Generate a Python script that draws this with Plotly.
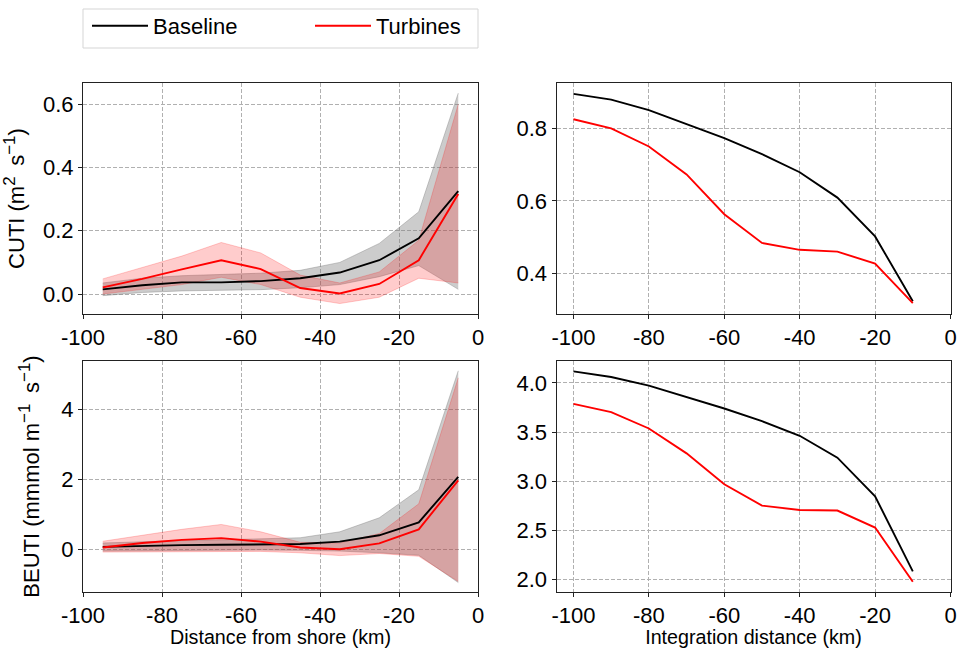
import plotly.graph_objects as go

# ---------------- data ----------------
dist = [-95, -85, -75, -65, -55, -45, -35, -25, -15, -5]

cuti_base = [0.015, 0.028, 0.037, 0.037, 0.041, 0.050, 0.068, 0.107, 0.176, 0.325]
cuti_base_hi = [0.035, 0.050, 0.058, 0.063, 0.066, 0.075, 0.100, 0.160, 0.260, 0.635]
cuti_base_lo = [-0.005, 0.005, 0.010, 0.012, 0.014, 0.020, 0.030, 0.055, 0.090, 0.015]
cuti_turb = [0.021, 0.048, 0.078, 0.107, 0.079, 0.019, 0.002, 0.032, 0.107, 0.316]
cuti_turb_hi = [0.048, 0.085, 0.120, 0.163, 0.130, 0.060, 0.035, 0.070, 0.170, 0.600]
cuti_turb_lo = [0.000, 0.015, 0.030, 0.053, 0.030, -0.010, -0.030, -0.010, 0.050, 0.035]

beuti_base = [0.07, 0.10, 0.12, 0.13, 0.13, 0.15, 0.22, 0.40, 0.77, 2.07]
beuti_base_hi = [0.18, 0.22, 0.25, 0.27, 0.29, 0.33, 0.50, 0.90, 1.70, 5.10]
beuti_base_lo = [-0.05, -0.04, -0.03, -0.02, -0.02, -0.03, -0.05, -0.10, -0.17, -0.95]
beuti_turb = [0.05, 0.18, 0.27, 0.32, 0.22, 0.05, 0.00, 0.17, 0.57, 1.97]
beuti_turb_hi = [0.23, 0.40, 0.57, 0.71, 0.50, 0.20, 0.18, 0.45, 1.30, 4.90]
beuti_turb_lo = [-0.08, -0.07, -0.06, -0.05, -0.06, -0.10, -0.18, -0.12, -0.20, -0.92]

integ = [-100, -90, -80, -70, -60, -50, -40, -30, -20, -10]
cuti_int_base = [0.895, 0.879, 0.850, 0.812, 0.773, 0.729, 0.679, 0.609, 0.502, 0.323]
cuti_int_turb = [0.825, 0.800, 0.750, 0.673, 0.563, 0.484, 0.465, 0.460, 0.427, 0.318]
beuti_int_base = [4.118, 4.060, 3.973, 3.855, 3.740, 3.611, 3.463, 3.240, 2.848, 2.084]
beuti_int_turb = [3.787, 3.703, 3.537, 3.284, 2.970, 2.753, 2.709, 2.703, 2.530, 1.980]

x_tickvals = [-100, -80, -60, -40, -20, 0]
x_ticktext = ["-100", "-80", "-60", "-40", "-20", "0"]

series_names = ["Baseline", "Turbines"]
# ---------------------------------------

FONT = "Liberation Sans, Arial, sans-serif"
BLACK = "#000000"
RED = "#ff0000"
GRAY_FILL = "rgba(128,128,128,0.4)"
RED_FILL = "rgba(255,0,0,0.2)"

fig = go.Figure()


def band(x, lo, hi, fill, xa, ya):
    fig.add_trace(go.Scatter(x=x, y=lo, mode="lines", line=dict(color=fill, width=1),
                             showlegend=False, hoverinfo="skip", xaxis=xa, yaxis=ya))
    fig.add_trace(go.Scatter(x=x, y=hi, mode="lines", line=dict(color=fill, width=1),
                             fill="tonexty", fillcolor=fill, showlegend=False,
                             hoverinfo="skip", xaxis=xa, yaxis=ya))


def line(x, y, color, name, xa, ya, show):
    fig.add_trace(go.Scatter(x=x, y=y, mode="lines", line=dict(color=color, width=1.9),
                             name=name, showlegend=show, xaxis=xa, yaxis=ya))


# top-left
band(dist, cuti_base_lo, cuti_base_hi, GRAY_FILL, "x", "y")
band(dist, cuti_turb_lo, cuti_turb_hi, RED_FILL, "x", "y")
line(dist, cuti_base, BLACK, series_names[0], "x", "y", True)
line(dist, cuti_turb, RED, series_names[1], "x", "y", True)

# bottom-left
band(dist, beuti_base_lo, beuti_base_hi, GRAY_FILL, "x3", "y3")
band(dist, beuti_turb_lo, beuti_turb_hi, RED_FILL, "x3", "y3")
line(dist, beuti_base, BLACK, series_names[0], "x3", "y3", False)
line(dist, beuti_turb, RED, series_names[1], "x3", "y3", False)

# top-right
line(integ, cuti_int_base, BLACK, series_names[0], "x2", "y2", False)
line(integ, cuti_int_turb, RED, series_names[1], "x2", "y2", False)

# bottom-right
line(integ, beuti_int_base, BLACK, series_names[0], "x4", "y4", False)
line(integ, beuti_int_turb, RED, series_names[1], "x4", "y4", False)

W, H = 957, 648
xl = [83 / W, 478 / W]
xr = [556.5 / W, 950.5 / W]
yt = [1 - 314 / H, 1 - 83 / H]
yb = [1 - 592 / H, 1 - 361 / H]

common_axis = dict(
    showline=True, linecolor="#222222", linewidth=1, mirror=True,
    ticks="outside", ticklen=4, tickcolor="#222222", tickwidth=1,
    showgrid=True, gridcolor="#b0b0b0", gridwidth=0.8, griddash="4px,2px",
    zeroline=False, tickfont=dict(size=22, color="#000000", family=FONT),
    automargin=False, ticklabeloverflow="allow",
)

xtitle_font = dict(size=19.7, color="#000000", family=FONT)
ytitle_font = dict(size=22, color="#000000", family=FONT)
SUP = "<sup><span style='font-size:17px'>{}</span></sup>"

cuti_title = "CUTI (m" + SUP.format("2") + "\u2009 s" + SUP.format("\u22121") + ")"
beuti_title = ("BEUTI (mmmol m" + SUP.format("\u22121") + "\u2009 s"
               + SUP.format("\u22121") + ")")

fig.update_layout(
    width=W, height=H,
    margin=dict(l=0, r=0, t=0, b=0),
    paper_bgcolor="white", plot_bgcolor="white",
    font=dict(family=FONT, color="#000000"),
    xaxis=dict(domain=xl, anchor="y", range=[-100, 0], tickvals=x_tickvals,
               ticktext=x_ticktext, **common_axis),
    yaxis=dict(domain=yt, anchor="x", range=[-0.063, 0.667], tickvals=[0, 0.2, 0.4, 0.6],
               ticktext=["0.0", "0.2", "0.4", "0.6"],
               title=dict(text=cuti_title, font=ytitle_font), **common_axis),
    xaxis2=dict(domain=xr, anchor="y2", range=[-104.5, 0], tickvals=x_tickvals,
                ticktext=x_ticktext, **common_axis),
    yaxis2=dict(domain=yt, anchor="x2", range=[0.288, 0.925], tickvals=[0.4, 0.6, 0.8],
                ticktext=["0.4", "0.6", "0.8"], **common_axis),
    xaxis3=dict(domain=xl, anchor="y3", range=[-100, 0], tickvals=x_tickvals,
                ticktext=x_ticktext,
                title=dict(text="Distance from shore (km)", font=xtitle_font),
                **common_axis),
    yaxis3=dict(domain=yb, anchor="x3", range=[-1.22, 5.38], tickvals=[0, 2, 4],
                ticktext=["0", "2", "4"],
                title=dict(text=beuti_title, font=ytitle_font), **common_axis),
    xaxis4=dict(domain=xr, anchor="y4", range=[-104.5, 0], tickvals=x_tickvals,
                ticktext=x_ticktext,
                title=dict(text="Integration distance (km)", font=xtitle_font),
                **common_axis),
    yaxis4=dict(domain=yb, anchor="x4", range=[1.875, 4.223],
                tickvals=[2.0, 2.5, 3.0, 3.5, 4.0],
                ticktext=["2.0", "2.5", "3.0", "3.5", "4.0"], **common_axis),
    legend=dict(
        orientation="h", x=87 / W, y=1 - 26 / H, xanchor="left", yanchor="middle",
        borderwidth=0, bgcolor="rgba(0,0,0,0)", traceorder="normal",
        font=dict(size=22, family=FONT, color="#000000"),
        entrywidth=152, itemwidth=56,
    ),
    shapes=[dict(type="rect", xref="paper", yref="paper",
                 x0=83 / W, x1=478 / W, y0=1 - 48 / H, y1=1 - 9 / H,
                 line=dict(color="#d5d5d5", width=1), fillcolor="rgba(0,0,0,0)",
                 layer="below")],
)

fig.write_html("out.html")
